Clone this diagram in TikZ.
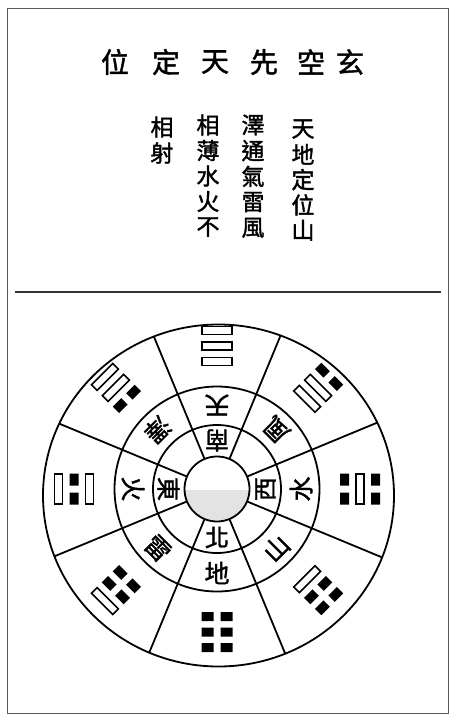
\documentclass[tikz,border=0pt]{standalone}
\usepackage{fontspec}
\newfontfamily\cjk[FakeBold=1.5]{Noto Sans CJK TC}
\newcommand\yao[2]{\ifnum#1=1\relax
  \draw[yang] (-15,{#2-4}) rectangle (15,{#2+4});%
  \else
  \fill[yin] (-15.5,{#2-4.5}) rectangle (-3.5,{#2+4.5}) (3.5,{#2-4.5}) rectangle (15.5,{#2+4.5});%
  \fi}
\begin{document}
\begin{tikzpicture}[x=1pt,y=1pt,
  titlechar/.style={font=\cjk\fontsize{28}{30}\selectfont, inner sep=0pt},
  verse/.style={font=\cjk\fontsize{23}{25}\selectfont, inner sep=0pt},
  ringchar/.style={font=\cjk\fontsize{25}{27}\selectfont, inner sep=0pt},
  innerchar/.style={font=\cjk\fontsize{24}{26}\selectfont, inner sep=0pt},
  circ/.style={line width=1.8pt},
  yang/.style={line width=1.6pt},
  yin/.style={black},
  frame/.style={line width=0.9pt, black!65},
  sepline/.style={line width=1.3pt, black!80}]
\useasboundingbox (0,0) rectangle (459,-723);
\fill[white] (0,0) rectangle (459,-723);
\draw[frame] (7,-8) rectangle (448,-713);
\draw[sepline] (15,-292) -- (441,-292);
% title
\foreach \c/\x [count=\i] in {位/115,定/166,天/215,先/264,空/311,玄/350}
  \node[titlechar] (t\i) at (\x,-62) {\c};
% verse columns
\foreach \c [count=\j] in {天,地,定,位,山} \node[verse] (a\j) at (303,{-129-25.3*(\j-1)}) {\c};
\foreach \c [count=\j] in {澤,通,氣,雷,風} \node[verse] (b\j) at (253,{-125-25.7*(\j-1)}) {\c};
\foreach \c [count=\j] in {相,薄,水,火,不} \node[verse] (c\j) at (208,{-125-25.5*(\j-1)}) {\c};
\foreach \c [count=\j] in {相,射} \node[verse] (d\j) at (162,{-127-26*(\j-1)}) {\c};
% diagram
\coordinate (C) at (217,-489);
\coordinate (O) at (218.5,-495.5);
\begin{scope}
  \clip (C) circle (32.5);
  \fill[gray!22] (180,-490) rectangle (260,-530);
\end{scope}
\draw[circ] (C) circle (32.5);
\draw[circ] (C) circle (64);
\draw[circ] (C) circle (102.5);
\draw[circ] (O) ellipse (175.5 and 171);
\begin{scope}
  \clip (O) ellipse (175.5 and 171);
  \foreach \a in {22.5,67.5,...,337.5}
    \draw[circ] ({217+32.5*cos(\a)},{-489+32.5*sin(\a)}) -- ({217+200*cos(\a)},{-489+200*sin(\a)});
\end{scope}
% middle ring
\foreach \a/\c/\n in {90/天/qian,45/風/xun,0/水/kan,-45/山/gen,-90/地/kun,-135/雷/zhen,180/火/li,135/澤/dui}
  \node[ringchar, rotate=\a+90] (m\n) at ({217+84*cos(\a)},{-489+84*sin(\a)}) {\c};
% inner ring
\foreach \a/\c/\n in {90/南/s,180/東/e,0/西/w,-90/北/n}
  \node[innerchar, rotate=\a+90] (i\n) at ({217+48.5*cos(\a)},{-489+48.5*sin(\a)}) {\c};
% trigrams (bottom line outward)
\foreach \a/\p/\q/\r in {90/1/1/1,45/0/1/1,0/0/1/0,-45/0/0/1,-90/0/0/0,-135/1/0/0,180/1/0/1,135/1/1/0}{
  \begin{scope}[shift={({217+143*cos(\a)},{-489+143*sin(\a)})}, rotate=\a+90]
    \yao{\p}{-15.5}
    \yao{\q}{0}
    \yao{\r}{15.5}
  \end{scope}}
\end{tikzpicture}
\end{document}
